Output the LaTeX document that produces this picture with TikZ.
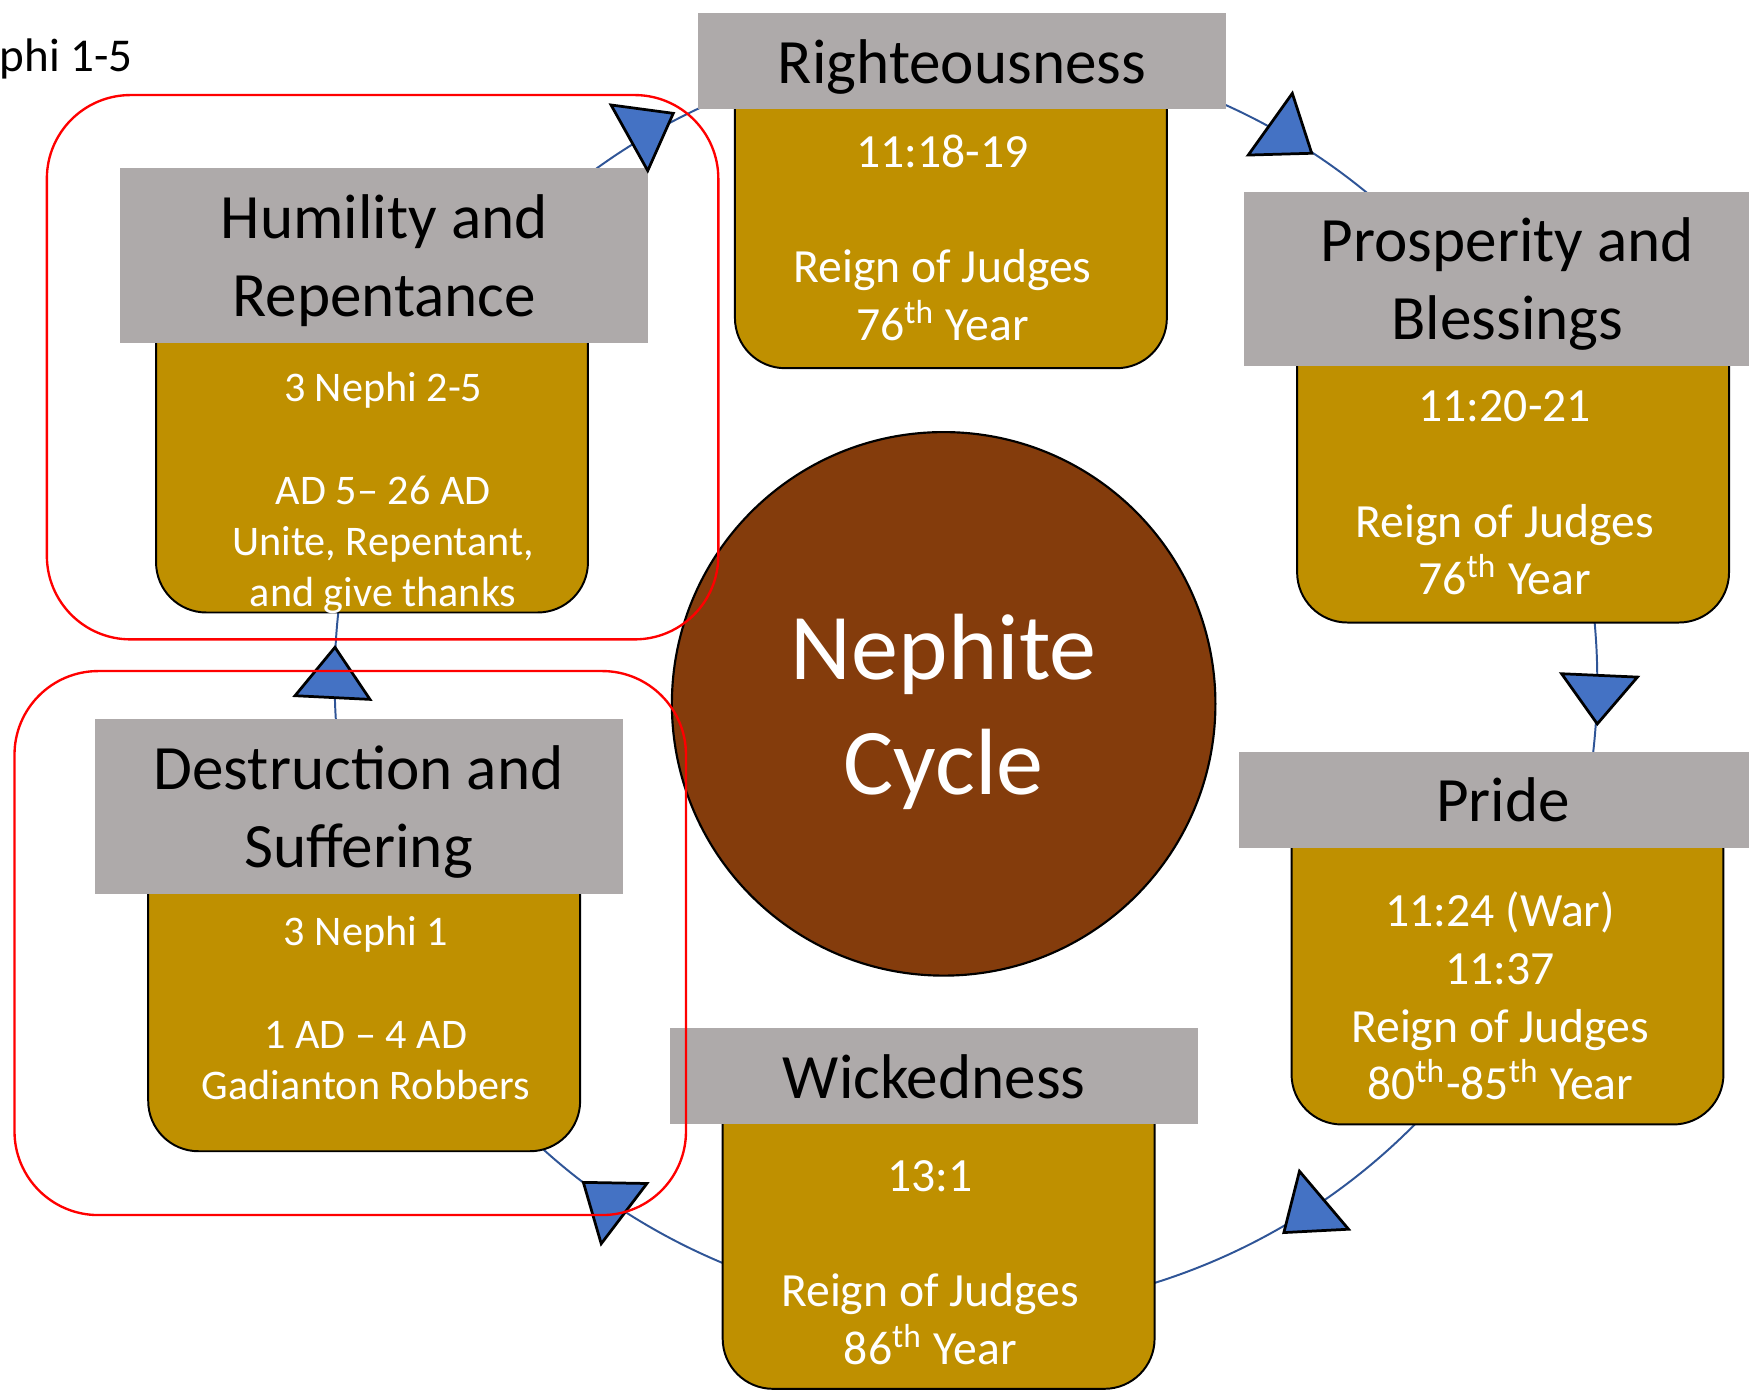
\documentclass[tikz,border=0pt]{standalone}
\usepackage{fontspec}
\setmainfont{Carlito}
\definecolor{headgray}{HTML}{AEAAAA}
\definecolor{bodygold}{HTML}{BF9000}
\definecolor{cyclebrown}{HTML}{843C0C}
\definecolor{arrowblue}{HTML}{4472C4}
\definecolor{lineblue}{HTML}{2F5597}
\begin{document}
\begin{tikzpicture}
  [x=.01cm,y=.01cm
  ,head/.style={fill=headgray,minimum width=4.73cm,inner sep=0pt,align=center,text depth=0pt,font={\fontsize{16.1}{19.9}\selectfont}}
  ,body/.style={fill=bodygold,draw=black,line width=.5pt,rounded corners=.45cm,minimum width=3.87cm,inner sep=0pt}
  ,txt/.style={text=white,align=center,inner sep=0pt,font={\fontsize{12.15}{14.7}\selectfont}}
  ,txtsm/.style={txt,font={\fontsize{10.75}{13.1}\selectfont}}
  ,lin/.style={color=lineblue,line width=.5pt}
  ,tri/.style={fill=arrowblue,draw=black,line width=.7pt}
  ,redbox/.style={draw=red,line width=.6pt,rounded corners=.75cm}
  ]
  \useasboundingbox (0,0) rectangle (1568,-1247);
  \coordinate (ring) at (866,-610);
  \foreach \s/\e in {186/171,128/113,68/48,8/-9,-42/-75,-110/-134}{
    \draw[lin] (ring) ++(\s:566) arc[start angle=\s,end angle=\e,radius=566];
  }
  % gold boxes
  \node[body,minimum height=2.9cm] (Rbody) at (852.5,-185) {};
  \node[body,minimum height=2.88cm] (Pbody) at (1356.5,-414) {};
  \node[body,minimum height=3.08cm] (Prbody) at (1351.5,-854) {};
  \node[body,minimum height=2.95cm] (Wbody) at (841.5,-1097.5) {};
  \node[body,minimum height=2.92cm] (Dbody) at (326.5,-886) {};
  \node[body,minimum height=2.99cm] (Hbody) at (333.5,-399.5) {};
  % grey headers
  \node[head,minimum height=.86cm] (Rhead) at (862.5,-55) {Righteousness};
  \node[head,minimum height=1.56cm] (Phead) at (1351.5,-250) {Prosperity and\\Blessings};
  \node[head,minimum height=.86cm] (Prhead) at (1347.5,-717) {Pride};
  \node[head,minimum height=.86cm] (Whead) at (837.5,-965) {Wickedness};
  \node[head,minimum height=1.56cm] (Dhead) at (321.5,-723) {Destruction and\\Suffering};
  \node[head,minimum height=1.56cm] (Hhead) at (344.5,-229) {Humility and\\Repentance};
  \node[circle,fill=cyclebrown,draw=black,line width=.55pt,minimum size=4.87cm,inner sep=0pt,
        text=white,align=center,text depth=0pt,font={\fontsize{24}{29.3}\selectfont}] (cycle) at (846,-631) {Nephite\\Cycle};
  % texts
  \node[txt] (Rtxt) at (845,-213) {11:18-19\\[\baselineskip]Reign of Judges\\76\textsuperscript{th} Year};
  \node[txt] (Ptxt) at (1349,-442) {11:20-21\\[\baselineskip]Reign of Judges\\76\textsuperscript{th} Year};
  \node[txt] (Prtxt) at (1345,-893) {11:24 (War)\\11:37\\Reign of Judges\\80\textsuperscript{th}-85\textsuperscript{th} Year};
  \node[txt] (Wtxt) at (834,-1132) {13:1\\[\baselineskip]Reign of Judges\\86\textsuperscript{th} Year};
  \node[txtsm] (Dtxt) at (328,-904) {3 Nephi 1\\[\baselineskip]1 AD – 4 AD\\Gadianton Robbers};
  \node[txtsm] (Htxt) at (343.5,-442) {3 Nephi 2-5\\[\baselineskip]AD 5– 26 AD\\Unite, Repentant,\\and give thanks};
  % arrow heads
  \foreach \ax/\ay/\bx/\by/\cx/\cy in {547.8/94.1/603.6/101.6/580.7/153,
      1158.6/83.7/1119.1/139/1176/137.4, 1400/604/1468/607/1432/649,
      1165/1050/1151/1105/1209/1102, 523/1060/580/1061/539/1115,
      300.3/580.3/264.5/623.7/331.7/627}{
    \filldraw[tri] (\ax,-\ay) -- (\bx,-\by) -- (\cx,-\cy) -- cycle;
  }
  \draw[redbox] (42,-85.2) rectangle (644,-573.2);
  \draw[redbox] (13,-601.6) rectangle (615,-1089.3);
  \node[anchor=west,inner sep=0pt,font={\fontsize{12}{14.5}\selectfont}] (chap) at (-1,-53) {phi 1-5};
\end{tikzpicture}
\end{document}
